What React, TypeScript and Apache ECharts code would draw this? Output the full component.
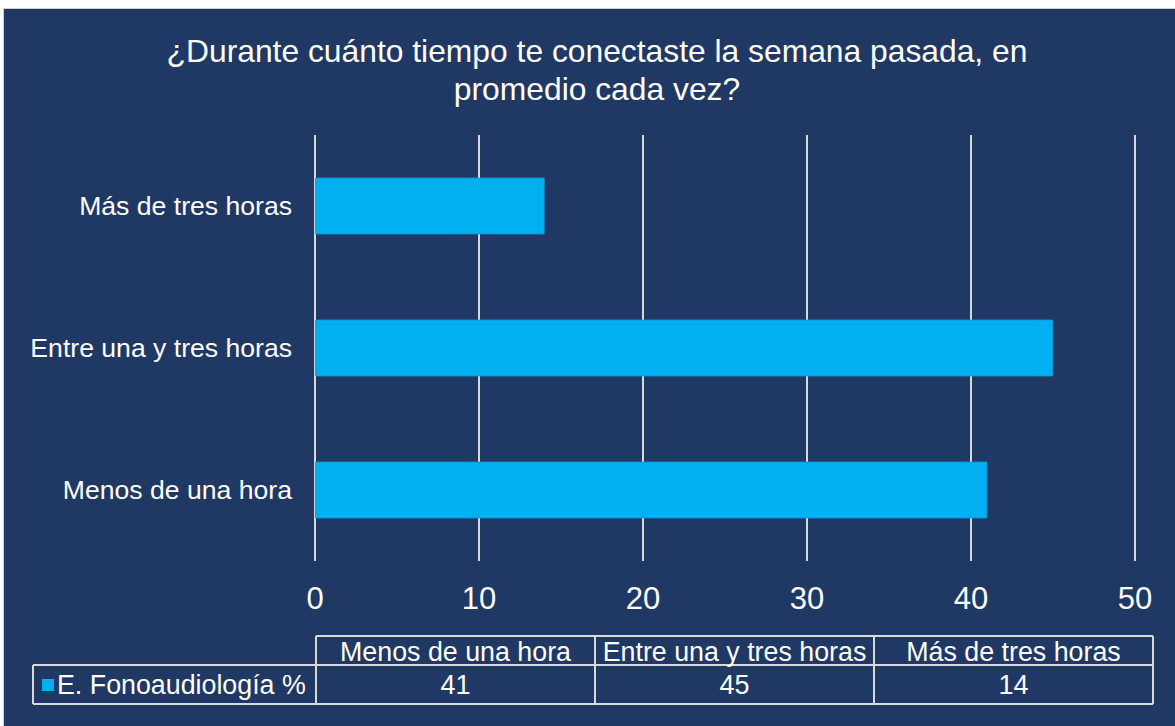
import React, { useEffect, useRef } from "react";
import * as echarts from "echarts";

const categories = ["Menos de una hora", "Entre una y tres horas", "Más de tres horas"];
const seriesName = "E. Fonoaudiología %";
const values = [41, 45, 14];
const xTicks = { min: 0, max: 50, interval: 10 };
const titleLines = ["¿Durante cuánto tiempo te conectaste la semana pasada, en", "promedio cada vez?"];

const FONT = "'Liberation Sans', Arial, sans-serif";
const BG = "#203864";
const BAR = "#00b0f0";
const GRID = "#d9d9d9";

export default function App() {
  const ref = useRef<HTMLDivElement>(null);

  useEffect(() => {
    if (!ref.current) return;
    const chart = echarts.init(ref.current, null, { renderer: "svg" });

    // data table layout
    const colX = [316, 595, 874, 1153];
    const legendX = 33;
    const yHeadTop = 636;
    const yMid = 665;
    const yBottom = 704;
    const lineStyle = { stroke: GRID, lineWidth: 2 };
    const tableEls: any[] = [];
    tableEls.push({ type: "line", shape: { x1: colX[0], y1: yHeadTop, x2: colX[3], y2: yHeadTop }, style: lineStyle });
    tableEls.push({ type: "line", shape: { x1: legendX, y1: yMid, x2: colX[3], y2: yMid }, style: lineStyle });
    tableEls.push({ type: "line", shape: { x1: legendX, y1: yBottom, x2: colX[3], y2: yBottom }, style: lineStyle });
    tableEls.push({ type: "line", shape: { x1: legendX, y1: yMid, x2: legendX, y2: yBottom }, style: lineStyle });
    colX.forEach((x) => {
      tableEls.push({ type: "line", shape: { x1: x, y1: yHeadTop, x2: x, y2: yBottom }, style: lineStyle });
    });
    categories.forEach((c, i) => {
      const cx = (colX[i] + colX[i + 1]) / 2;
      tableEls.push({
        type: "text",
        x: cx,
        y: (yHeadTop + yMid) / 2 + 1,
        style: { text: c, fill: "#ffffff", font: `26.8px ${FONT}`, align: "center", verticalAlign: "middle" },
      });
      tableEls.push({
        type: "text",
        x: cx,
        y: (yMid + yBottom) / 2,
        style: { text: String(values[i]), fill: "#ffffff", font: `27px ${FONT}`, align: "center", verticalAlign: "middle" },
      });
    });
    tableEls.push({ type: "rect", shape: { x: 42, y: 679, width: 12, height: 12 }, style: { fill: BAR } });
    tableEls.push({
      type: "text",
      x: 57,
      y: (yMid + yBottom) / 2,
      style: { text: seriesName, fill: "#ffffff", font: `26.8px ${FONT}`, align: "left", verticalAlign: "middle" },
    });

    chart.setOption({
      animation: false,
      backgroundColor: BG,
      textStyle: { fontFamily: FONT },
      title: {
        text: titleLines.join("\n"),
        left: 592,
        textAlign: "center",
        top: 27,
        textStyle: { color: "#ffffff", fontSize: 31.8, fontWeight: "normal", lineHeight: 38, fontFamily: FONT },
      },
      grid: { left: 315, right: 40, top: 135, bottom: 165, containLabel: false, outerBoundsMode: "none" },
      xAxis: {
        type: "value",
        min: xTicks.min,
        max: xTicks.max,
        interval: xTicks.interval,
        axisLine: { show: false },
        axisTick: { show: false },
        axisLabel: { color: "#ffffff", fontSize: 31, margin: 22, fontFamily: FONT },
        splitLine: { show: true, lineStyle: { color: GRID, width: 2 } },
      },
      yAxis: {
        type: "category",
        data: categories,
        axisLine: { show: false },
        axisTick: { show: false },
        axisLabel: { color: "#ffffff", fontSize: 26.6, margin: 23, fontFamily: FONT },
        splitLine: { show: false },
      },
      series: [
        {
          name: seriesName,
          type: "bar",
          data: values,
          barCategoryGap: "60%",
          itemStyle: { color: BAR, borderColor: "#0d9fd8", borderWidth: 1 },
        },
      ],
      graphic: [
        { type: "rect", shape: { x: 0, y: 0, width: 1175, height: 8 }, style: { fill: "#ffffff" }, z: 100 },
        { type: "rect", shape: { x: 0, y: 0, width: 3, height: 726 }, style: { fill: "#ffffff" }, z: 100 },
        { type: "line", shape: { x1: 3, y1: 8.5, x2: 1175, y2: 8.5 }, style: { stroke: "#cfcfcf", lineWidth: 1 }, z: 100 },
        { type: "line", shape: { x1: 3.5, y1: 8, x2: 3.5, y2: 726 }, style: { stroke: "#cfcfcf", lineWidth: 1 }, z: 100 },
        ...tableEls,
      ],
    });

    return () => chart.dispose();
  }, []);

  return (
    <div
      ref={ref}
      style={{ position: "fixed", left: 0, top: 0, width: 1175, height: 726 }}
    />
  );
}
